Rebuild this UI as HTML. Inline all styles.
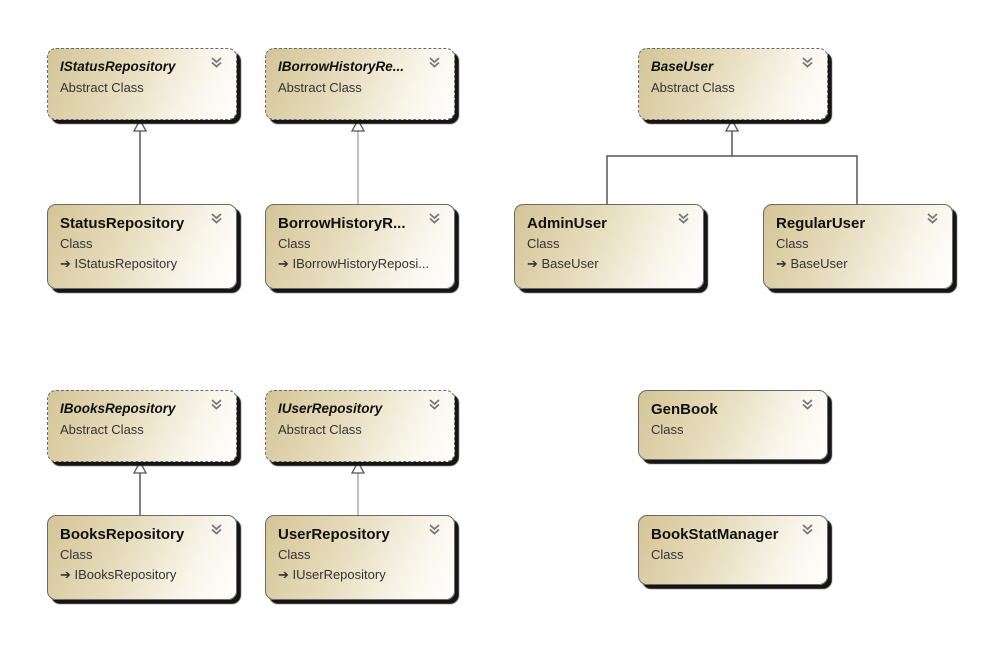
<!DOCTYPE html>
<html><head><meta charset="utf-8"><style>
html,body{margin:0;padding:0;background:#fff;}
body{width:1004px;height:667px;position:relative;overflow:hidden;font-family:"Liberation Sans",sans-serif;}
.b{position:absolute;width:190px;box-sizing:border-box;border:1px solid #6a6a6a;border-radius:9px;
background:linear-gradient(115deg,#d4c597 0%,#e6dcbc 40%,#f8f5ea 75%,#ffffff 100%);
box-shadow:4px 4px 1px #151515;}
.a{border-style:dashed;}
.t{position:absolute;left:12px;top:10px;font-weight:bold;font-size:15px;color:#111;}
.a .t{font-style:italic;font-size:13.5px;}
.s{position:absolute;left:12px;top:31px;font-size:13px;color:#333;}
.i{position:absolute;left:12px;top:51px;font-size:13px;color:#333;}
.c{position:absolute;right:14px;top:8px;width:11px;height:11px;}
</style></head><body>
<svg width="0" height="0" style="position:absolute"><defs>
<symbol id="chev" viewBox="0 0 11 11"><polyline points="1,1 5.5,5 10,1" fill="none" stroke="#777" stroke-width="1.8"/><polyline points="1,5.5 5.5,9.5 10,5.5" fill="none" stroke="#777" stroke-width="1.8"/></symbol>
</defs></svg>
<svg width="1004" height="667" style="position:absolute;left:0;top:0">
<g stroke="#555" stroke-width="1.5" fill="none">
<line x1="140" y1="130" x2="140" y2="204"/>
<line x1="358" y1="130" x2="358" y2="204" stroke="#aaa"/>
<line x1="140" y1="472" x2="140" y2="515"/>
<line x1="358" y1="472" x2="358" y2="515" stroke="#aaa"/>
<polyline points="732,130 732,156 607,156 607,204"/>
<polyline points="732,156 857,156 857,204"/>
</g>
<g fill="#fff" stroke="#555" stroke-width="1.3">
<polygon points="140,120 134,131 146,131"/>
<polygon points="358,120 352,131 364,131"/>
<polygon points="140,462 134,473 146,473"/>
<polygon points="358,462 352,473 364,473"/>
<polygon points="732,120 726,131 738,131"/>
</g>
</svg>

<div class="b a" style="left:47px;top:48px;height:72px"><div class="t">IStatusRepository</div><div class="s">Abstract Class</div><svg class="c"><use href="#chev"/></svg></div>
<div class="b" style="left:47px;top:204px;height:85px"><div class="t">StatusRepository</div><div class="s">Class</div><div class="i">➔ IStatusRepository</div><svg class="c"><use href="#chev"/></svg></div>

<div class="b a" style="left:265px;top:48px;height:72px"><div class="t">IBorrowHistoryRe...</div><div class="s">Abstract Class</div><svg class="c"><use href="#chev"/></svg></div>
<div class="b" style="left:265px;top:204px;height:85px"><div class="t">BorrowHistoryR...</div><div class="s">Class</div><div class="i">➔ IBorrowHistoryReposi...</div><svg class="c"><use href="#chev"/></svg></div>

<div class="b a" style="left:638px;top:48px;height:72px"><div class="t">BaseUser</div><div class="s">Abstract Class</div><svg class="c"><use href="#chev"/></svg></div>
<div class="b" style="left:514px;top:204px;height:85px"><div class="t">AdminUser</div><div class="s">Class</div><div class="i">➔ BaseUser</div><svg class="c"><use href="#chev"/></svg></div>
<div class="b" style="left:763px;top:204px;height:85px"><div class="t">RegularUser</div><div class="s">Class</div><div class="i">➔ BaseUser</div><svg class="c"><use href="#chev"/></svg></div>

<div class="b a" style="left:47px;top:390px;height:72px"><div class="t">IBooksRepository</div><div class="s">Abstract Class</div><svg class="c"><use href="#chev"/></svg></div>
<div class="b" style="left:47px;top:515px;height:85px"><div class="t">BooksRepository</div><div class="s">Class</div><div class="i">➔ IBooksRepository</div><svg class="c"><use href="#chev"/></svg></div>

<div class="b a" style="left:265px;top:390px;height:72px"><div class="t">IUserRepository</div><div class="s">Abstract Class</div><svg class="c"><use href="#chev"/></svg></div>
<div class="b" style="left:265px;top:515px;height:85px"><div class="t">UserRepository</div><div class="s">Class</div><div class="i">➔ IUserRepository</div><svg class="c"><use href="#chev"/></svg></div>

<div class="b" style="left:638px;top:390px;height:70px"><div class="t">GenBook</div><div class="s">Class</div><svg class="c"><use href="#chev"/></svg></div>
<div class="b" style="left:638px;top:515px;height:70px"><div class="t">BookStatManager</div><div class="s">Class</div><svg class="c"><use href="#chev"/></svg></div>
</body></html>
